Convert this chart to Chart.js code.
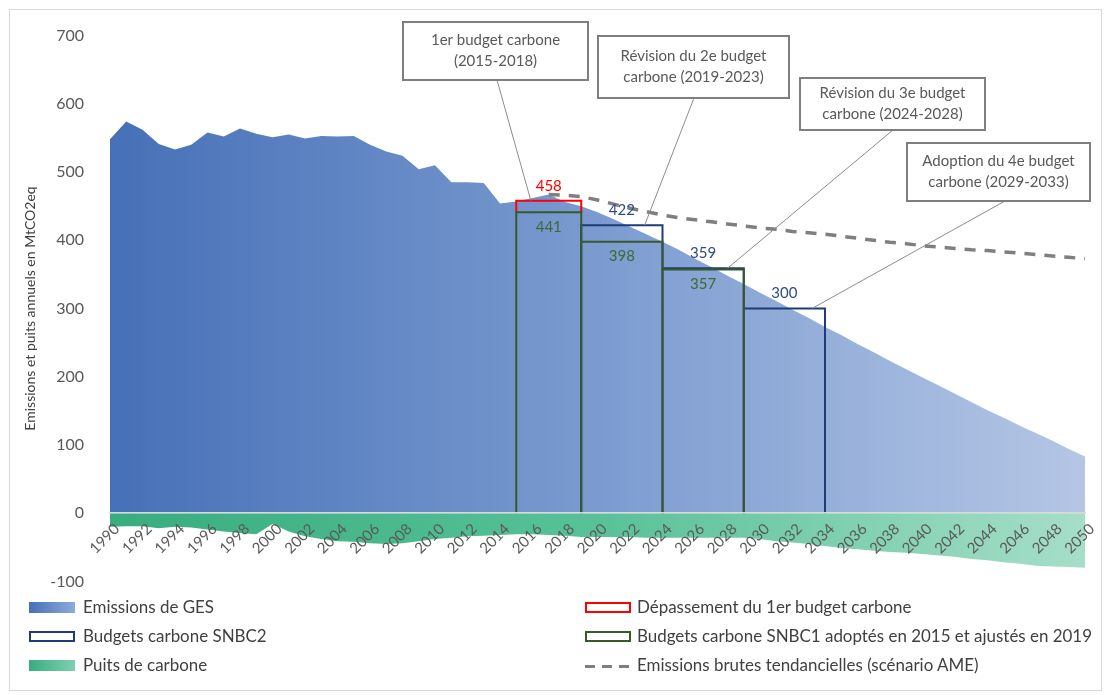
<!DOCTYPE html>
<html lang="fr">
<head>
<meta charset="utf-8">
<script src="https://cdn.jsdelivr.net/npm/chart.js@4.4.1/dist/chart.umd.min.js"></script>
<style>
  html, body { margin: 0; padding: 0; background: #fff; }
  #frame { position: absolute; left: 9px; top: 9px; width: 1091px; height: 680px; border: 1px solid #d9d9d9; }
  #wrap { position: absolute; left: 0; top: 0; width: 1107px; height: 617px; }
  .lg { position: absolute; font-family: Lato, sans-serif; font-size: 17px; color: #404040; white-space: nowrap;
        transform-origin: left center; line-height: 20px; }
  .sw { position: absolute; box-sizing: border-box; width: 46px; height: 11px; }
</style>
</head>
<body>
<div id="frame"></div>
<div id="wrap"><canvas id="myChart"></canvas></div>
<div id="legend">
  <div class="sw" style="left:29px;top:602px;background:linear-gradient(to right,#4670b7,#8eaadb);"></div>
  <div class="lg" style="left:83px;top:597px;">Emissions de GES</div>
  <div class="sw" style="left:29px;top:631px;border:2px solid #1f3b7a;background:#fff;"></div>
  <div class="lg" style="left:83px;top:626px;">Budgets carbone SNBC2</div>
  <div class="sw" style="left:29px;top:660px;background:linear-gradient(to right,#38ad7f,#7fd0b0);"></div>
  <div class="lg" style="left:83px;top:655px;">Puits de carbone</div>
  <div class="sw" style="left:585px;top:602px;border:2px solid #ff0000;background:#fff;"></div>
  <div class="lg" style="left:637px;top:597px;">Dépassement du 1er budget carbone</div>
  <div class="sw" style="left:585px;top:631px;border:2px solid #375a2a;background:#fff;"></div>
  <div class="lg" id="longest" style="left:637px;top:626px;">Budgets carbone SNBC1 adoptés en 2015 et ajustés en 2019</div>
  <div class="sw" style="left:585px;top:665px;height:3px;background:repeating-linear-gradient(to right,#7f7f7f 0 10px,transparent 10px 17px);"></div>
  <div class="lg" style="left:637px;top:655px;">Emissions brutes tendancielles (scénario AME)</div>
</div>
<script>
// années 1990-2050
var years = [];
for (var yr = 1990; yr <= 2050; yr++) years.push(yr);

// émissions de GES (MtCO2eq), historique puis projection SNBC
var emissions = [
  548, 574, 562, 541, 533, 540, 558, 552, 564, 556,
  551, 555, 549, 553, 552, 553, 540, 530, 524, 504,
  510, 485, 485, 484, 454, 457, 462, 467, 456, 450,
  441, 431, 420, 409, 398, 386, 373, 361, 348, 336,
  323, 311, 298, 286, 273, 261, 248, 236, 223, 211,
  199, 187, 175, 163, 151, 140, 128, 117, 106, 94,
  83
];

// puits de carbone
var sinks = [
  -20, -19, -19, -22, -20, -21, -24, -27, -29, -31,
  -16, -27, -34, -38, -41, -42, -44, -45, -44, -41,
  -38, -36, -34, -33, -32, -31, -31, -32, -33, -35,
  -35, -35, -35, -36, -36, -36, -36, -36, -36, -36,
  -38, -41, -43, -45, -48, -51, -53, -55, -57, -58,
  -60, -62, -64, -67, -69, -72, -74, -77, -78, -79,
  -80
];

// scénario AME (2017-2050)
var ameStart = 2017;
var ame = [
  467, 466, 464, 459, 453, 447, 442, 437, 433, 430,
  427, 424, 421, 418, 416, 413, 411, 409, 406, 403,
  400, 397, 395, 392, 390, 388, 386, 385, 383, 381,
  379, 377, 375, 373
];

// budgets carbone
var budgetStart = [2015, 2019, 2024, 2029];
var budgetEnd   = [2019, 2024, 2029, 2034];
var snbc1       = [441, 398, 357, null];
var snbc2       = [null, 422, 359, 300];
var depassement = [458, null, null, null];

// bulles
var calloutText = [
  ['1er budget carbone', '(2015-2018)'],
  ['Révision du 2e budget', 'carbone (2019-2023)'],
  ['Révision du 3e budget', 'carbone (2024-2028)'],
  ['Adoption du 4e budget', 'carbone (2029-2033)']
];
var calloutYear  = [2015.9, 2022.9, 2028.0, 2033.2];
var calloutValue = [458, 422, 359, 300];

function outline(values, base) {
  var pts = [];
  values.forEach(function (v, i) {
    if (v == null) return;
    var b = base ? base[i] : 0;
    pts.push({x: budgetStart[i], y: b}, {x: budgetStart[i], y: v},
             {x: budgetEnd[i], y: v}, {x: budgetEnd[i], y: b},
             {x: budgetEnd[i], y: null});
  });
  return pts;
}

function hGrad(c, stops) {
  var chart = c.chart, a = chart.chartArea;
  if (!a) return stops[0];
  var g = chart.ctx.createLinearGradient(a.left, 0, a.right, 0);
  stops.forEach(function (s, i) { g.addColorStop(i / (stops.length - 1), s); });
  return g;
}

var LATO = 'Lato, sans-serif';

var boxLabels = {
  id: 'boxLabels',
  afterDatasetsDraw: function (chart, args, opts) {
    var ctx = chart.ctx, x = chart.scales.x, y = chart.scales.y;
    ctx.save();
    ctx.font = '15px ' + LATO;
    ctx.textAlign = 'center';
    ctx.textBaseline = 'middle';
    function put(values, color, dy) {
      values.forEach(function (v, i) {
        if (v == null) return;
        var cx = (x.getPixelForValue(budgetStart[i]) + x.getPixelForValue(budgetEnd[i])) / 2;
        ctx.fillStyle = color;
        ctx.fillText(String(v), cx, y.getPixelForValue(v) + dy);
      });
    }
    put(depassement, '#ff0000', -15);
    put(snbc2, '#2f4b8c', -15);
    put(snbc1, '#3d6a33', 15);

    // bulles et traits de rappel
    opts.boxes.forEach(function (b, i) {
      var ax = x.getPixelForValue(calloutYear[i]), ay = y.getPixelForValue(calloutValue[i]);
      ctx.strokeStyle = '#8c8c8c';
      ctx.lineWidth = 1;
      ctx.beginPath();
      ctx.moveTo(b[4], b[1] + b[3]);
      ctx.lineTo(ax, ay);
      ctx.stroke();
      ctx.fillStyle = '#fff';
      ctx.fillRect(b[0], b[1], b[2], b[3]);
      ctx.lineWidth = 2;
      ctx.strokeStyle = '#7f7f7f';
      ctx.strokeRect(b[0], b[1], b[2], b[3]);
      ctx.fillStyle = '#595959';
      var cy = b[1] + b[3] / 2;
      ctx.fillText(calloutText[i][0], b[0] + b[2] / 2, cy - 10.5);
      ctx.fillText(calloutText[i][1], b[0] + b[2] / 2, cy + 10.5);
    });
    ctx.restore();
  }
};

var ctx = document.getElementById('myChart').getContext('2d');
var myChart = new Chart(ctx, {
  type: 'line',
  data: {
    datasets: [{
        label: 'Budgets carbone SNBC1 adoptés en 2015 et ajustés en 2019',
        data: outline(snbc1),
        borderColor: '#375a2a',
        borderWidth: 2,
        fill: false,
        order: 1
      }, {
        label: 'Dépassement du 1er budget carbone',
        data: outline(depassement, snbc1),
        borderColor: '#ff0000',
        borderWidth: 2,
        fill: false,
        order: 2
      }, {
        label: 'Budgets carbone SNBC2',
        data: outline(snbc2),
        borderColor: '#1f3b7a',
        borderWidth: 2,
        fill: false,
        order: 3
      }, {
        label: 'Emissions brutes tendancielles (scénario AME)',
        data: ame.map(function (v, i) { return {x: ameStart + i, y: v}; }),
        borderColor: '#7f7f7f',
        borderWidth: 3.5,
        borderDash: [11, 9],
        fill: false,
        order: 4
      }, {
        label: 'Puits de carbone',
        data: sinks.map(function (v, i) { return {x: years[i], y: v}; }),
        borderWidth: 0,
        backgroundColor: function (c) { return hGrad(c, ['#38ad7f', '#58c198', '#a6dec9']); },
        fill: 'origin',
        order: 5
      }, {
        label: 'Emissions de GES',
        data: emissions.map(function (v, i) { return {x: years[i], y: v}; }),
        borderWidth: 0,
        backgroundColor: function (c) { return hGrad(c, ['#4670b7', '#7b9bd0', '#b5c6e5']); },
        fill: 'origin',
        order: 6
      }
    ]
  },
  options: {
    responsive: true,
    maintainAspectRatio: false,
    animation: false,
    events: [],
    elements: { point: { radius: 0 }, line: { tension: 0, borderJoinStyle: 'miter', borderCapStyle: 'butt' } },
    layout: { padding: { left: 14, right: 22, top: 32, bottom: 20 } },
    plugins: {
      legend: { display: false },
      tooltip: { enabled: false },
      boxLabels: {
        boxes: [
          [403, 22, 185, 58, 497],
          [598, 36, 191, 62, 694],
          [800, 78, 185, 52, 893],
          [907, 143, 183, 58, 1005]
        ]
      }
    },
    scales: {
      x: {
        type: 'linear',
        min: 1990,
        max: 2050,
        position: { y: 0 },
        grid: { display: false, drawTicks: false },
        border: { display: true, color: '#d9d9d9', width: 1.5, z: 1 },
        ticks: {
          z: 1,
          stepSize: 2,
          autoSkip: false,
          minRotation: 45,
          maxRotation: 45,
          padding: 7,
          labelOffset: 7,
          color: '#595959',
          font: { family: LATO, size: 15 },
          callback: function (v) { return String(v); }
        }
      },
      y: {
        min: -100,
        max: 700,
        grid: { display: false, drawTicks: false },
        border: { display: false },
        ticks: { stepSize: 100, padding: 26, color: '#595959', font: { family: LATO, size: 16 } },
        title: {
          display: true,
          text: 'Emissions et puits annuels en MtCO2eq',
          color: '#404040',
          font: { family: LATO, size: 14 },
          padding: { top: 8, bottom: 0 }
        },
        afterFit: function (s) { s.width = 96; }
      }
    }
  },
  plugins: [boxLabels]
});

// légende : texte étroit comme dans l'original
var longest = document.getElementById('longest');
var k = 455 / longest.getBoundingClientRect().width;
document.querySelectorAll('.lg').forEach(function (el) { el.style.transform = 'scaleX(' + k + ')'; });
</script>
</body>
</html>
